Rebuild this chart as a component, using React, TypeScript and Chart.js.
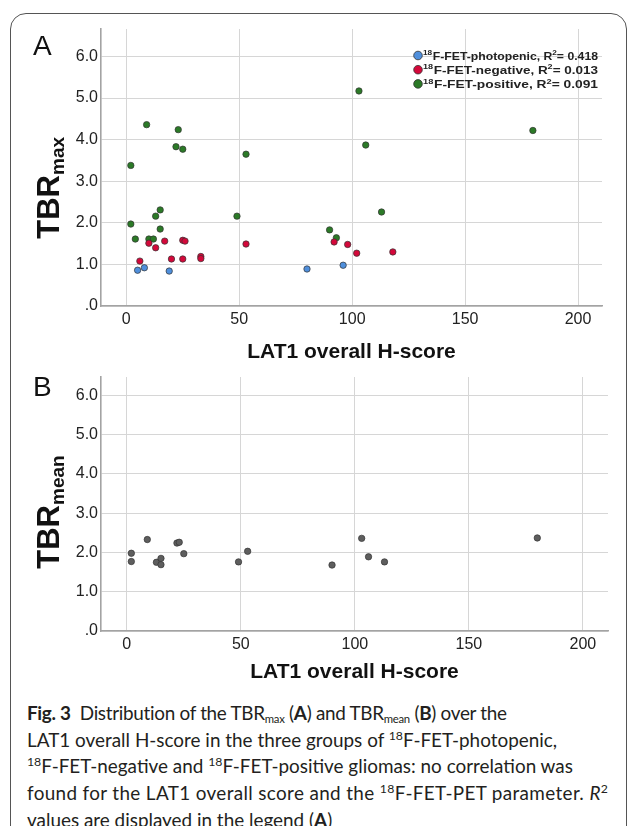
import React, { useEffect, useRef } from 'react';
import Chart from 'chart.js/auto';

// ---------- data ----------
const photopenicX = [5, 8, 19, 80, 96];
const photopenicY = [0.86, 0.92, 0.84, 0.89, 0.98];

const negativeX = [6, 10, 13, 17, 20, 25, 26, 25, 33, 33, 53, 92, 98, 102, 118];
const negativeY = [1.08, 1.51, 1.40, 1.56, 1.13, 1.58, 1.56, 1.13, 1.19, 1.14, 1.49, 1.54, 1.48, 1.27, 1.30];

const positiveX = [2, 2, 4, 9, 10, 12, 13, 15, 15, 22, 23, 25, 49, 53, 90, 93, 103, 106, 113, 180];
const positiveY = [3.38, 1.97, 1.61, 4.36, 1.61, 1.61, 2.16, 2.31, 1.85, 3.83, 4.24, 3.77, 2.16, 3.65, 1.83, 1.64, 5.17, 3.87, 2.26, 4.22];

const meanX = [2, 2, 9, 13, 15, 15, 22, 23, 25, 49, 53, 90, 103, 106, 113, 180];
const meanY = [1.98, 1.77, 2.33, 1.75, 1.85, 1.69, 2.24, 2.26, 1.97, 1.76, 2.03, 1.68, 2.36, 1.89, 1.76, 2.37];

const seriesNames = ['F-FET-photopenic', 'F-FET-negative', 'F-FET-positive'];
const r2Values = ['0.418', '0.013', '0.091'];
const xTitle = 'LAT1 overall H-score';

const COLORS = ['#4f8fdc', '#d4083a', '#2b7a27'];
const GRAY = '#5e5e5e';
const FONT = '"Liberation Sans", Arial, sans-serif';

const toPts = (xs: number[], ys: number[]) => xs.map((x, i) => ({ x, y: ys[i] }));

// ---------- plugin for titles, panel letter, legend ----------
const decorPlugin = {
  id: 'decor',
  afterDraw(chart: any, _args: any, opts: any) {
    const ctx = chart.ctx as CanvasRenderingContext2D;
    const ca = chart.chartArea;
    ctx.save();
    ctx.fillStyle = '#111';
    if (opts.letter) {
      ctx.font = `28px ${FONT}`;
      ctx.textBaseline = 'alphabetic';
      ctx.textAlign = 'left';
      ctx.fillText(opts.letter.text, opts.letter.x, opts.letter.y);
    }
    if (opts.xTitle) {
      ctx.font = `bold 21px ${FONT}`;
      ctx.textAlign = 'center';
      ctx.textBaseline = 'middle';
      ctx.fillText(opts.xTitle.text, (ca.left + ca.right) / 2, opts.xTitle.y);
    }
    if (opts.yTitle) {
      const Y = opts.yTitle;
      ctx.save();
      ctx.textAlign = 'left';
      ctx.textBaseline = 'alphabetic';
      ctx.font = `bold 31px ${FONT}`;
      const wMain = ctx.measureText(Y.main).width;
      ctx.translate(Y.x, Y.junction);
      ctx.rotate(-Math.PI / 2);
      ctx.fillText(Y.main, -wMain, 0);
      ctx.font = `bold 19px ${FONT}`;
      ctx.fillText(Y.sub, 0, Y.subShift);
      ctx.restore();
    }
    if (opts.legend) {
      const L = opts.legend;
      const BIG = `bold 11.6px ${FONT}`;
      const SMALL = `bold 7.8px ${FONT}`;
      chart.data.datasets.forEach((ds: any, i: number) => {
        const cy = L.y + i * L.rowH;
        ctx.beginPath();
        ctx.arc(L.x, cy, 4.3, 0, Math.PI * 2);
        ctx.fillStyle = ds.backgroundColor;
        ctx.fill();
        ctx.lineWidth = 0.8;
        ctx.strokeStyle = '#333';
        ctx.stroke();
        // measure pieces
        const t1 = `${seriesNames[i]}, R`;
        const t2 = `= ${r2Values[i]}`;
        ctx.font = SMALL;
        const w18 = ctx.measureText('18').width + 0.6;
        const w2 = ctx.measureText('2').width;
        ctx.font = BIG;
        const w1 = ctx.measureText(t1).width;
        const wt2 = ctx.measureText(t2).width;
        const total = w18 + w1 + w2 + wt2;
        const start = L.x + 5;
        const sx = (L.right - start) / total;
        ctx.save();
        ctx.translate(start, cy + 4.2);
        ctx.scale(sx, 1);
        ctx.fillStyle = '#222';
        ctx.textAlign = 'left';
        ctx.textBaseline = 'alphabetic';
        let x = 0;
        ctx.font = SMALL;
        ctx.fillText('18', x, -4.6);
        x += w18;
        ctx.font = BIG;
        ctx.fillText(t1, x, 0);
        x += w1;
        ctx.font = SMALL;
        ctx.fillText('2', x, -4.6);
        x += w2;
        ctx.font = BIG;
        ctx.fillText(t2, x, 0);
        ctx.restore();
      });
    }
    ctx.restore();
  },
};

function xScale(min: number, max: number, h: number) {
  return {
    type: 'linear',
    position: 'bottom',
    min,
    max,
    afterFit: (s: any) => { s.height = h; },
    ticks: { stepSize: 50, includeBounds: false, padding: 4, color: '#222', font: { family: FONT, size: 16 } },
    grid: { color: '#d6d6d6', lineWidth: 1, drawTicks: false },
    border: { color: '#a3a3a3', width: 1.6 },
  };
}

function yScale(max: number, w: number) {
  return {
    type: 'linear',
    min: 0,
    max,
    afterFit: (s: any) => { s.width = w; },
    ticks: {
      stepSize: 1,
      includeBounds: false,
      padding: 3,
      color: '#222',
      font: { family: FONT, size: 16 },
      callback: (v: number) => (v === 0 ? '.0' : v.toFixed(1)),
    },
    grid: { color: '#d6d6d6', lineWidth: 1, drawTicks: false },
    border: { color: '#a3a3a3', width: 1.6 },
  };
}

function ChartA() {
  const ref = useRef<HTMLCanvasElement>(null);
  useEffect(() => {
    const names = seriesNames;
    const chart = new Chart(ref.current!, {
      type: 'scatter',
      data: {
        datasets: [
          { label: names[0], data: toPts(photopenicX, photopenicY), backgroundColor: COLORS[0] },
          { label: names[1], data: toPts(negativeX, negativeY), backgroundColor: COLORS[1] },
          { label: names[2], data: toPts(positiveX, positiveY), backgroundColor: COLORS[2] },
        ].map((d) => ({ ...d, pointRadius: 3.2, borderColor: '#333', borderWidth: 0.7 })),
      },
      options: {
        responsive: false,
        animation: false,
        layout: { padding: { top: 29, right: 27, left: 0, bottom: 0 } },
        scales: { x: xScale(-11.2, 210.6, 64) as any, y: yScale(6.66, 101) as any },
        plugins: {
          legend: { display: false },
          tooltip: { enabled: false },
          decor: {
            letter: { text: 'A', x: 33, y: 55 },
            xTitle: { text: xTitle, y: 352 },
            yTitle: { main: 'TBR', sub: 'max', x: 59, junction: 175, subShift: 5 },
            legend: { x: 418, y: 55.5, rowH: 14.2, right: 598 },
          },
        } as any,
      },
      plugins: [decorPlugin],
    });
    return () => chart.destroy();
  }, []);
  return <canvas ref={ref} width={629} height={370} style={{ position: 'absolute', left: 0, top: 0 }} />;
}

function ChartB() {
  const ref = useRef<HTMLCanvasElement>(null);
  useEffect(() => {
    const chart = new Chart(ref.current!, {
      type: 'scatter',
      data: {
        datasets: [
          { label: 'TBRmean', data: toPts(meanX, meanY), backgroundColor: GRAY, pointRadius: 3.2, borderColor: '#333', borderWidth: 0.7 },
        ],
      },
      options: {
        responsive: false,
        animation: false,
        layout: { padding: { top: 17, right: 21, left: 0, bottom: 0 } },
        scales: { x: xScale(-11.3, 211, 59) as any, y: yScale(6.47, 101) as any },
        plugins: {
          legend: { display: false },
          tooltip: { enabled: false },
          decor: {
            letter: { text: 'B', x: 33, y: 36 },
            xTitle: { text: xTitle, y: 312 },
            yTitle: { main: 'TBR', sub: 'mean', x: 59, junction: 505 - 360, subShift: 5 },
          },
        } as any,
      },
      plugins: [decorPlugin],
    });
    return () => chart.destroy();
  }, []);
  return <canvas ref={ref} width={629} height={330} style={{ position: 'absolute', left: 0, top: 360 }} />;
}

const capStyle: React.CSSProperties = {
  position: 'absolute',
  left: 27,
  top: 700,
  fontFamily: 'Lato, "Noto Sans", sans-serif',
  fontSize: 18.9,
  lineHeight: '26.7px',
  color: '#231f20',
  whiteSpace: 'nowrap',
};
const sup: React.CSSProperties = { fontSize: '0.65em', verticalAlign: '0.55em', lineHeight: 0 };
const sub: React.CSSProperties = { fontSize: '0.6em', verticalAlign: '-0.25em', lineHeight: 0 };

export default function App() {
  useEffect(() => {
    document.body.style.margin = '0';
  }, []);
  return (
    <div style={{ position: 'relative', width: 629, height: 826, overflow: 'hidden', background: '#fff' }}>
      <div
        style={{
          position: 'absolute',
          left: 10,
          top: 13,
          width: 617,
          height: 900,
          border: '1.5px solid #555',
          borderRadius: 16,
          boxSizing: 'border-box',
        }}
      />
      <ChartA />
      <ChartB />
      <div style={capStyle}>
        <div style={{ letterSpacing: '-0.3px' }}>
          <b>Fig. 3</b>&nbsp; Distribution of the TBR<span style={sub}>max</span> (<b>A</b>) and TBR<span style={sub}>mean</span> (<b>B</b>) over the
        </div>
        <div>
          LAT1 overall H-score in the three groups of <span style={sup}>18</span>F-FET-photopenic,
        </div>
        <div>
          <span style={sup}>18</span>F-FET-negative and <span style={sup}>18</span>F-FET-positive gliomas: no correlation was
        </div>
        <div style={{ letterSpacing: '0.35px' }}>
          found for the LAT1 overall score and the <span style={sup}>18</span>F-FET-PET parameter. <i>R</i>
          <span style={sup}>2</span>
        </div>
        <div>
          values are displayed in the legend (<b>A</b>)
        </div>
      </div>
    </div>
  );
}
